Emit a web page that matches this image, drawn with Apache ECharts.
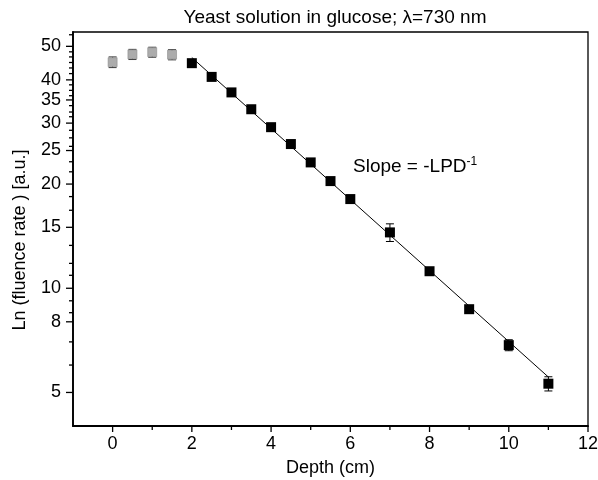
<!DOCTYPE html>
<html>
<head>
<meta charset="utf-8">
<script src="https://cdn.jsdelivr.net/npm/echarts@6/dist/echarts.min.js"></script>
<style>html,body{margin:0;padding:0;background:#fff}#c{width:598px;height:480px}</style>
</head>
<body>
<div id="c"></div>
<script>
// ---- data ----
var grayX = [0, 0.5, 1, 1.5];
var grayY = [45.0, 47.4, 48.1, 47.3];
var grayErr = [1.6, 1.6, 1.6, 1.6];
var blackX = [2, 2.5, 3, 3.5, 4, 4.5, 5, 5.5, 6, 7, 8, 9, 10, 11];
var blackY = [44.7, 40.8, 36.8, 32.9, 29.2, 26.1, 23.1, 20.4, 18.1, 14.5, 11.2, 8.7, 6.85, 5.3];
var blackErr = [0.5, 0.4, 0.4, 0.3, 0.3, 0.3, 0.3, 0.2, 0.2, 0.85, 0.2, 0.15, 0.25, 0.25];
var fitX = [2, 11];
var fitY = [46.4, 5.54];
var yMajorTicks = [5, 8, 10, 15, 20, 25, 30, 35, 40, 50];
var yMinorTicks = [54, 48.2, 46.6, 44.9, 43.3, 41.7, 38.7, 37.3, 36.0, 33.7, 32.3, 31.3,
                   28.6, 27.2, 25.7, 23.2, 21.7, 18.4, 16.8, 13.3, 11.8, 10.9, 9.2, 8.5, 7, 6];
var xMajorTicks = [0, 2, 4, 6, 8, 10, 12];
var xMinorTicks = [1, 3, 5, 7, 9, 11];
var xMin = -1, xMax = 12, yMin = 4, yMax = 55;
var titleText = 'Yeast solution in glucose; \u03bb=730 nm';
var xName = 'Depth (cm)';
var yName = 'Ln (fluence rate ) [a.u.]';

var FONT = '"Liberation Sans", Arial, Helvetica, sans-serif';

function pairs(xs, ys) { return xs.map(function (x, i) { return [x, ys[i]]; }); }
function errData(xs, ys, es) { return xs.map(function (x, i) { return [x, ys[i] - es[i], ys[i] + es[i]]; }); }

function errRender(color) {
  return function (params, api) {
    var x = api.value(0);
    var lo = api.coord([x, api.value(1)]);
    var hi = api.coord([x, api.value(2)]);
    var w = 4;
    var st = { stroke: color, lineWidth: 1 };
    return { type: 'group', children: [
      { type: 'line', shape: { x1: lo[0], y1: lo[1], x2: hi[0], y2: hi[1] }, style: st },
      { type: 'line', shape: { x1: lo[0] - w, y1: lo[1], x2: lo[0] + w, y2: lo[1] }, style: st },
      { type: 'line', shape: { x1: hi[0] - w, y1: hi[1], x2: hi[0] + w, y2: hi[1] }, style: st }
    ]};
  };
}

function yTickRender(len, withLabel) {
  return function (params, api) {
    var v = api.value(0);
    var p = api.coord([xMin, v]);
    var ch = [{ type: 'line', shape: { x1: p[0] - len, y1: p[1], x2: p[0], y2: p[1] }, style: { stroke: '#000', lineWidth: 1.3 } }];
    if (withLabel) {
      ch.push({ type: 'text', style: { text: String(v), x: p[0] - 12, y: p[1], align: 'right', verticalAlign: 'middle',
        font: '18px ' + FONT, fill: '#000' } });
    }
    return { type: 'group', children: ch };
  };
}
function xTickRender(len, withLabel) {
  return function (params, api) {
    var v = api.value(0);
    var p = api.coord([v, yMin]);
    var ch = [{ type: 'line', shape: { x1: p[0], y1: p[1], x2: p[0], y2: p[1] + len }, style: { stroke: '#000', lineWidth: 1.3 } }];
    if (withLabel) {
      ch.push({ type: 'text', style: { text: String(v), x: p[0], y: p[1] + 9, align: 'center', verticalAlign: 'top',
        font: '18px ' + FONT, fill: '#000' } });
    }
    return { type: 'group', children: ch };
  };
}

var chart = echarts.init(document.getElementById('c'), null, { renderer: 'canvas' });
chart.setOption({
  backgroundColor: '#fff',
  animation: false,
  title: {
    text: titleText, left: 330, top: 3, textAlign: 'center',
    textStyle: { fontFamily: FONT, fontSize: 19, fontWeight: 'normal', color: '#000' }
  },
  grid: { left: 73, right: 10, top: 32, bottom: 54, containLabel: false, outerBoundsMode: 'none',
    show: true, borderColor: '#000', borderWidth: 1.3, backgroundColor: 'transparent' },
  xAxis: {
    type: 'value', min: xMin, max: xMax, interval: 1,
    axisLine: { show: true, onZero: false, lineStyle: { color: '#000', width: 1.8 } },
    axisTick: { show: false }, axisLabel: { show: false }, splitLine: { show: false },
    name: xName, nameLocation: 'middle', nameGap: 33,
    nameTextStyle: { fontFamily: FONT, fontSize: 18, color: '#000' }
  },
  yAxis: {
    type: 'log', logBase: 10, min: yMin, max: yMax,
    axisLine: { show: true, onZero: false, lineStyle: { color: '#000', width: 1.8 } },
    axisTick: { show: false }, axisLabel: { show: false }, splitLine: { show: false }, minorTick: { show: false }
  },
  graphic: [
    { type: 'text', x: 20, y: 240, rotation: Math.PI / 2,
      style: { text: yName, font: '18px ' + FONT, fill: '#000', align: 'center', verticalAlign: 'middle' } },
    { type: 'text', x: 353, y: 167,
      style: { text: 'Slope = -LPD{s|-1}', verticalAlign: 'middle', font: '19px ' + FONT, fill: '#000',
        rich: { s: { fontSize: 12, fontFamily: FONT, verticalAlign: 'top', padding: [0, 0, 10, 0], fill: '#000' } } } }
  ],
  series: [
    { type: 'custom', clip: false, silent: true, renderItem: yTickRender(7, true), data: yMajorTicks.map(function (v) { return [v]; }), encode: { x: -1, y: 0 }, z: 5 },
    { type: 'custom', clip: false, silent: true, renderItem: yTickRender(4, false), data: yMinorTicks.map(function (v) { return [v]; }), encode: { x: -1, y: 0 }, z: 5 },
    { type: 'custom', clip: false, silent: true, renderItem: xTickRender(6, true), data: xMajorTicks.map(function (v) { return [v]; }), encode: { x: 0, y: -1 }, z: 5 },
    { type: 'custom', clip: false, silent: true, renderItem: xTickRender(4, false), data: xMinorTicks.map(function (v) { return [v]; }), encode: { x: 0, y: -1 }, z: 5 },
    { type: 'line', data: pairs(fitX, fitY), showSymbol: false, symbol: 'none', lineStyle: { color: '#000', width: 1 }, z: 3, silent: true },
    { type: 'custom', renderItem: errRender('#333'), data: errData(grayX, grayY, grayErr), encode: { x: 0, y: [1, 2] }, z: 2, silent: true },
    { type: 'custom', renderItem: errRender('#000'), data: errData(blackX, blackY, blackErr), encode: { x: 0, y: [1, 2] }, z: 2, silent: true },
    { type: 'scatter', data: pairs(grayX, grayY), symbol: 'rect', symbolSize: 9,
      itemStyle: { color: '#acacac', borderColor: '#8a8a8a', borderWidth: 0.6, opacity: 1 }, z: 4, silent: true },
    { type: 'scatter', data: pairs(blackX, blackY), symbol: 'rect', symbolSize: 10,
      itemStyle: { color: '#000', opacity: 1 }, z: 4, silent: true }
  ]
});
</script>
</body>
</html>
